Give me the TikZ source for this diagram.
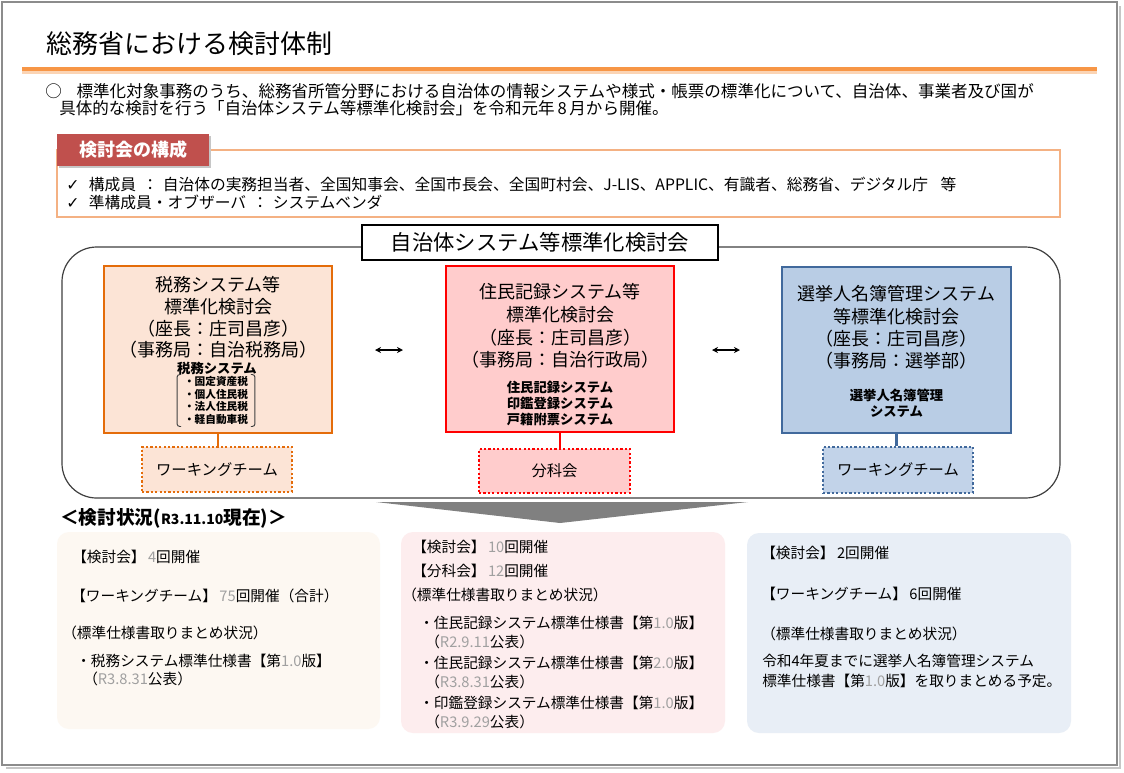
\documentclass[tikz,border=0pt]{standalone}
\usepackage{fontspec}
\setmainfont{Noto Sans CJK JP}
\newfontfamily\symfnt{DejaVu Sans}
\usetikzlibrary{arrows.meta}
\definecolor{orgline}{HTML}{F79646}
\definecolor{orglight}{HTML}{FBD4B4}
\definecolor{tabred}{HTML}{C0504D}
\definecolor{cfgborder}{HTML}{F4B183}
\definecolor{orgD}{HTML}{E46C0A}
\definecolor{orgL}{HTML}{FCE4D6}
\definecolor{redD}{HTML}{FF0000}
\definecolor{redL}{HTML}{FFCCCC}
\definecolor{bluD}{HTML}{41699C}
\definecolor{bluL}{HTML}{B9CDE5}
\definecolor{bluWT}{HTML}{C2D3E9}
\definecolor{panL}{HTML}{FDF8F2}
\definecolor{panM}{HTML}{FDEDEE}
\definecolor{panR}{HTML}{E8EEF6}
\definecolor{numg}{HTML}{A0A0A0}
\definecolor{frameg}{HTML}{8C8C8C}
\newcommand\gnum[1]{\textcolor{numg}{#1}}
\begin{document}
\begin{tikzpicture}[x=0.75pt,y=-0.75pt,
  txt/.style={anchor=west,inner sep=0pt},
  intro/.style={txt,font=\fontsize{12.4}{14}\selectfont},
  cfgtxt/.style={txt,font=\fontsize{11.8}{13}\selectfont},
  pantxt/.style={txt,font=\fontsize{11}{13}\selectfont},
  sysbox/.style={draw,line width=1.9pt,inner sep=0pt},
  wtbox/.style={draw,line width=1.7pt,dash pattern=on 1.7pt off 1.6pt,inner sep=0pt,font=\fontsize{11.5}{13}\selectfont},
  boxtxt/.style={align=center,inner sep=0pt},
  smallbold/.style={align=center,inner sep=0pt,font=\bfseries\fontsize{10}{11.8}\selectfont},
  panel/.style={rounded corners=9pt,inner sep=0pt},
  link/.style={line width=1.9pt},
  dblarrow/.style={{Stealth[length=4.5pt,width=4.5pt]}-{Stealth[length=4.5pt,width=4.5pt]},line width=0.8pt}
]
\useasboundingbox (0,0) rectangle (1124,772);
\fill[white] (0,0) rectangle (1124,772);
% frame with shadow
\draw[gray!45,line width=2pt] (1120,6) -- (1120,768) -- (6,768);
\draw[frameg,line width=0.9pt] (2,2) rectangle (1117,765);

% title
\node[txt,font=\fontsize{19.5}{22}\selectfont] (title) at (46,44) {総務省における検討体制};
\draw[orgline,line width=3pt] (22,68.5) -- (1097,68.5);
\draw[orglight,line width=1.6pt] (22,72.5) -- (1097,72.5);

% intro
\node[intro] (intro1) at (45,91) {○\hspace{0.9em}標準化対象事務のうち、総務省所管分野における自治体の情報システムや様式・帳票の標準化について、自治体、事業者及び国が};
\node[intro] (intro2) at (59,108.5) {具体的な検討を行う「自治体システム等標準化検討会」を令和元年\,8\,月から開催。};

% config box
\node[draw=cfgborder,line width=0.9pt,fill=white,minimum width=752.25pt,minimum height=50.25pt,inner sep=0pt] (cfg) at (558.5,183.5) {};
\fill[gray!45] (59,136) rectangle (211,168);
\node[fill=tabred,minimum width=114pt,minimum height=24pt,inner sep=0pt,text=white,font=\bfseries\fontsize{13.5}{15}\selectfont] (tab) at (133,150) {検討会の構成};
\node[cfgtxt] (cfg1) at (66,184) {{\symfnt ✓}\hspace{0.6em}構成員\hspace{0.4em}：\hspace{0.3em}自治体の実務担当者、全国知事会、全国市長会、全国町村会、J-LIS、APPLIC、有識者、総務省、デジタル庁\hspace{0.8em}等};
\node[cfgtxt] (cfg2) at (66,202.5) {{\symfnt ✓}\hspace{0.6em}準構成員・オブザーバ\hspace{0.4em}：\hspace{0.3em}システムベンダ};

% big rounded container
\node[draw=black!75,line width=0.9pt,rounded corners=26pt,minimum width=748.5pt,minimum height=188.25pt,inner sep=0pt] (outer) at (561,372.5) {};
\node[draw=black,fill=white,line width=0.9pt,minimum width=267pt,minimum height=26.25pt,inner sep=0pt,font=\fontsize{16}{18}\selectfont] (otitle) at (540,242.5) {自治体システム等標準化検討会};

% left committee
\node[sysbox,draw=orgD,fill=orgL,minimum width=171pt,minimum height=125.25pt] (lbox) at (218,349.5) {};
\node[boxtxt,font=\fontsize{13.5}{16.2}\selectfont] (lboxt) at (218,317.5) {税務システム等\\標準化検討会\\（座長：庄司昌彦）\\（事務局：自治税務局）};
\node[smallbold] (lsys) at (217,368) {税務システム};
\node[align=left,inner xsep=5pt,inner ysep=1.5pt,font=\bfseries\fontsize{8}{9.3}\selectfont] (llist) at (216,400.5) {・固定資産税\\・個人住民税\\・法人住民税\\・軽自動車税};
\draw[black!75,line width=0.7pt,rounded corners=2pt] ([xshift=3pt]llist.north west) -- (llist.north west) -- (llist.south west) -- ([xshift=3pt]llist.south west);
\draw[black!75,line width=0.7pt,rounded corners=2pt] ([xshift=-3pt]llist.north east) -- (llist.north east) -- (llist.south east) -- ([xshift=-3pt]llist.south east);
\node[wtbox,draw=orgD,fill=orgL,minimum width=112.5pt,minimum height=33.75pt] (lwt) at (217,469.5) {ワーキングチーム};
\draw[link,orgD] (lbox.south) -- (lbox.south |- lwt.north);

% middle committee
\node[sysbox,draw=redD,fill=redL,minimum width=171pt,minimum height=124.5pt] (mbox) at (560,349) {};
\node[boxtxt,font=\fontsize{13.5}{17}\selectfont] (mboxt) at (560,326) {住民記録システム等\\標準化検討会\\（座長：庄司昌彦）\\（事務局：自治行政局）};
\node[smallbold] (msys) at (560,403.5) {住民記録システム\\印鑑登録システム\\戸籍附票システム};
\node[wtbox,draw=redD,fill=redL,minimum width=113.25pt,minimum height=33pt] (mwt) at (554.5,471) {分科会};
\draw[link,redD] (mbox.south) -- (mbox.south |- mwt.north);

% right committee
\node[sysbox,draw=bluD,fill=bluL,minimum width=171.75pt,minimum height=124.5pt] (rbox) at (896.5,350) {};
\node[boxtxt,font=\fontsize{13.5}{16.7}\selectfont] (rboxt) at (896.5,327.5) {選挙人名簿管理システム\\等標準化検討会\\（座長：庄司昌彦）\\（事務局：選挙部）};
\node[smallbold,font=\bfseries\fontsize{10}{12}\selectfont] (rsys) at (896.5,403) {選挙人名簿管理\\システム};
\node[wtbox,draw=bluD,fill=bluWT,minimum width=112.5pt,minimum height=34.5pt] (rwt) at (898,470) {ワーキングチーム};
\draw[link,bluD] (rbox.south) -- (rbox.south |- rwt.north);

% double arrows
\coordinate (a1s) at (375,350); \coordinate (a1e) at (403,350);
\coordinate (a2s) at (712,350); \coordinate (a2e) at (740,350);
\draw[dblarrow] (a1s) -- (a1e);
\draw[dblarrow] (a2s) -- (a2e);

% down chevron
\fill[black!50] (376,502) -- (748,502) -- (560,523) -- cycle;

% status heading
\node[txt,font=\bfseries\fontsize{14}{16}\selectfont] (stat) at (60,518) {＜検討状況({\fontsize{10.5}{12}\selectfont R3.11.10}現在)＞};

% bottom panels
\node[panel,fill=panL,minimum width=242.25pt,minimum height=147.75pt] (pl) at (218.5,630.5) {};
\node[panel,fill=panM,minimum width=243pt,minimum height=150.75pt] (pm) at (563,632.5) {};
\node[panel,fill=panR,minimum width=243pt,minimum height=150pt] (pr) at (909,633) {};

\node[pantxt] (pl1) at (72,557) {【検討会】\,\gnum{4}回開催};
\node[pantxt] (pl2) at (71,596) {【ワーキングチーム】\,\gnum{75}回開催（合計）};
\node[pantxt] (pl3) at (62,633) {（標準仕様書取りまとめ状況）};
\node[pantxt] (pl4) at (76,661) {・税務システム標準仕様書【第\gnum{1.0}版】};
\node[pantxt] (pl5) at (83,679) {（\gnum{R3.8.31}公表）};

\node[pantxt] (pm1) at (412,547) {【検討会】\,\gnum{10}回開催};
\node[pantxt] (pm2) at (412,571) {【分科会】\,\gnum{12}回開催};
\node[pantxt] (pm3) at (402,595) {（標準仕様書取りまとめ状況）};
\node[pantxt] (pm4) at (419,623) {・住民記録システム標準仕様書【第\gnum{1.0}版】};
\node[pantxt] (pm5) at (425,642) {（\gnum{R2.9.11}公表）};
\node[pantxt] (pm6) at (419,663) {・住民記録システム標準仕様書【第\gnum{2.0}版】};
\node[pantxt] (pm7) at (425,682) {（\gnum{R3.8.31}公表）};
\node[pantxt] (pm8) at (419,703) {・印鑑登録システム標準仕様書【第\gnum{1.0}版】};
\node[pantxt] (pm9) at (425,722) {（\gnum{R3.9.29}公表）};

\node[pantxt] (pr1) at (761,553) {【検討会】\,2回開催};
\node[pantxt] (pr2) at (761,594) {【ワーキングチーム】\,6回開催};
\node[pantxt] (pr3) at (761,634) {（標準仕様書取りまとめ状況）};
\node[pantxt] (pr4) at (762,661) {令和4年夏までに選挙人名簿管理システム};
\node[pantxt] (pr5) at (762,681) {標準仕様書【第\gnum{1.0}版】を取りまとめる予定。};
\end{tikzpicture}
\end{document}
